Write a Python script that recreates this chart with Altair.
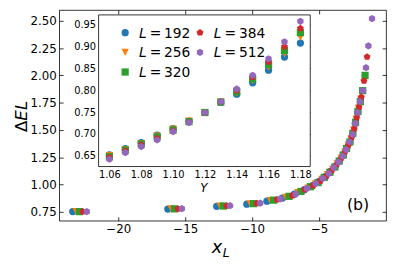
import altair as alt
import pandas as pd

# ---------------- data ----------------
L_values = ["192", "256", "320", "384", "512"]
colors = ["#1f77b4", "#ff7f0e", "#2ca02c", "#d62728", "#9467bd"]
pentagon = "M0,-1L0.951,-0.309L0.588,0.809L-0.588,0.809L-0.951,-0.309Z"
hexagon = "M0,-1L0.866,-0.5L0.866,0.5L0,1L-0.866,0.5L-0.866,-0.5Z"
tri_down = "M-1,-1L1,-1L0,1Z"
shapes = ["circle", tri_down, "square", pentagon, hexagon]

main_x_192 = [-23.4, -16.3, -12.65, -10.4, -8.9, -7.75, -6.85, -6.1, -5.5, -5.0, -4.55, -4.15, -3.8, -3.5, -3.2, -2.95, -2.7, -2.5, -2.3, -2.12]
main_y_192 = [0.752, 0.775, 0.800, 0.820, 0.847, 0.876, 0.912, 0.953, 0.990, 1.030, 1.072, 1.120, 1.165, 1.215, 1.27, 1.33, 1.39, 1.46, 1.56, 1.66]
main_x_256 = [-23.15, -16.05, -12.4, -10.15, -8.65, -7.5, -6.6, -5.85, -5.28, -4.8, -4.38, -4.0, -3.66, -3.36, -3.08, -2.83, -2.6, -2.4, -2.22, -2.05, -1.88]
main_y_256 = [0.752, 0.776, 0.802, 0.823, 0.852, 0.883, 0.925, 0.968, 1.005, 1.048, 1.092, 1.140, 1.19, 1.24, 1.30, 1.36, 1.42, 1.50, 1.60, 1.70, 1.78]
main_x_320 = [-22.9, -15.8, -12.15, -9.9, -8.4, -7.25, -6.35, -5.65, -5.08, -4.62, -4.2, -3.83, -3.5, -3.2, -2.95, -2.7, -2.48, -2.28, -2.1, -1.92, -1.75, -1.57]
main_y_320 = [0.752, 0.777, 0.803, 0.825, 0.857, 0.892, 0.937, 0.980, 1.018, 1.065, 1.112, 1.16, 1.215, 1.27, 1.33, 1.39, 1.47, 1.57, 1.67, 1.76, 1.86, 2.00]
main_x_384 = [-22.65, -15.55, -11.9, -9.65, -8.15, -7.0, -6.1, -5.45, -4.9, -4.45, -4.05, -3.68, -3.35, -3.07, -2.82, -2.58, -2.38, -2.2, -2.02, -1.85, -1.65, -1.42]
main_y_384 = [0.752, 0.778, 0.804, 0.827, 0.862, 0.900, 0.953, 0.993, 1.035, 1.08, 1.13, 1.185, 1.24, 1.30, 1.36, 1.43, 1.51, 1.61, 1.71, 1.80, 1.95, 2.17]
main_x_512 = [-22.35, -15.25, -11.65, -9.4, -7.9, -6.75, -5.9, -5.25, -4.72, -4.28, -3.9, -3.55, -3.25, -2.98, -2.72, -2.5, -2.3, -2.12, -1.95, -1.72, -1.5, -1.32, -1.05]
main_y_512 = [0.752, 0.779, 0.806, 0.830, 0.868, 0.912, 0.965, 1.008, 1.055, 1.10, 1.155, 1.205, 1.26, 1.32, 1.39, 1.46, 1.56, 1.66, 1.76, 1.86, 2.07, 2.27, 2.52]

inset_Y = [1.06, 1.07, 1.08, 1.09, 1.10, 1.11, 1.12, 1.13, 1.14, 1.15, 1.16, 1.17, 1.18]
inset_192 = [0.652, 0.666, 0.680, 0.697, 0.712, 0.729, 0.749, 0.772, 0.791, 0.817, 0.846, 0.876, 0.908]
inset_256 = [0.650, 0.664, 0.678, 0.695, 0.711, 0.729, 0.749, 0.773, 0.794, 0.822, 0.853, 0.884, 0.921]
inset_320 = [0.648, 0.663, 0.677, 0.693, 0.709, 0.728, 0.749, 0.773, 0.797, 0.826, 0.859, 0.891, 0.932]
inset_384 = [0.646, 0.661, 0.675, 0.690, 0.707, 0.727, 0.749, 0.774, 0.800, 0.830, 0.865, 0.900, 0.942]
inset_512 = [0.642, 0.657, 0.671, 0.686, 0.705, 0.726, 0.749, 0.774, 0.803, 0.834, 0.872, 0.911, 0.958]

main_xticks = [-20, -15, -10, -5]
main_yticks = [0.75, 1.00, 1.25, 1.50, 1.75, 2.00, 2.25, 2.50]
inset_xticks = [1.06, 1.08, 1.10, 1.12, 1.14, 1.16, 1.18]
inset_yticks = [0.65, 0.70, 0.75, 0.80, 0.85, 0.90, 0.95]

leg_col = [0, 0, 0, 1, 1]
leg_row = [0, 1, 2, 0, 1]

# ---------------- tables ----------------
main_sets = [(main_x_192, main_y_192), (main_x_256, main_y_256), (main_x_320, main_y_320),
             (main_x_384, main_y_384), (main_x_512, main_y_512)]
rows = []
for L, (xs, ys) in zip(L_values, main_sets):
    for xv, yv in zip(xs, ys):
        rows.append({"L": L, "xL": xv, "dEL": yv})
df_main = pd.DataFrame(rows)

inset_sets = [inset_192, inset_256, inset_320, inset_384, inset_512]
rows = []
for L, ys in zip(L_values, inset_sets):
    for xv, yv in zip(inset_Y, ys):
        rows.append({"L": L, "Y": xv, "v": yv})
df_inset = pd.DataFrame(rows)

df_leg = pd.DataFrame({"L": L_values, "col": leg_col, "row": leg_row})
one = pd.DataFrame({"a": [0]})

W, H = 332, 214
FONT = "DejaVu Sans"
MS = 54

color_enc = alt.Color("L:N", scale=alt.Scale(domain=L_values, range=colors), legend=None)
shape_enc = alt.Shape("L:N", scale=alt.Scale(domain=L_values, range=shapes), legend=None)

main_xs = alt.Scale(domain=[-24.41, 0.0], nice=False, zero=False)
main_ys = alt.Scale(domain=[0.6688, 2.599], nice=False, zero=False)
ins_xs = alt.Scale(domain=[1.0532, 1.1862], range=[40, 255], nice=False, zero=False)
ins_ys = alt.Scale(domain=[0.6252, 0.9726], range=[159, 5], nice=False, zero=False)


def ax(orient, values, fmt, offset, labels=True, size=12, pad=3):
    return alt.Axis(orient=orient, values=values, format=fmt, offset=offset,
                    tickSize=4, tickWidth=0.8, tickColor="black", domain=False,
                    grid=False, labels=labels, labelFontSize=size, labelFont=FONT,
                    labelColor="black", labelPadding=pad, labelFlush=False,
                    labelOverlap=False)


main_pts = alt.Chart(df_main).mark_point(filled=True, size=MS, opacity=1).encode(
    x=alt.X("xL:Q", scale=main_xs, axis=ax("bottom", main_xticks, "d", -4), title=None),
    y=alt.Y("dEL:Q", scale=main_ys, axis=ax("left", main_yticks, ".2f", -4), title=None),
    color=color_enc, shape=shape_enc,
)
main_mirror = alt.Chart(df_main).mark_point(opacity=0).encode(
    x=alt.X("xL:Q", scale=main_xs, axis=ax("top", main_xticks, "d", -4, labels=False), title=None),
    y=alt.Y("dEL:Q", scale=main_ys, axis=ax("right", main_yticks, ".2f", -4, labels=False), title=None),
)

inset_frame = alt.Chart(one).mark_rect(fill="white", stroke="black", strokeWidth=0.8).encode(
    x=alt.value(40), x2=alt.value(255), y=alt.value(5), y2=alt.value(159)
)

inset_pts = alt.Chart(df_inset).mark_point(filled=True, size=MS, opacity=1).encode(
    x=alt.X("Y:Q", scale=ins_xs, axis=ax("bottom", inset_xticks, ".2f", -59, size=10), title=None),
    y=alt.Y("v:Q", scale=ins_ys, axis=ax("left", inset_yticks, ".2f", -44, size=10), title=None),
    color=color_enc, shape=shape_enc,
)
inset_mirror = alt.Chart(df_inset).mark_point(opacity=0).encode(
    x=alt.X("Y:Q", scale=ins_xs, axis=ax("top", inset_xticks, ".2f", -9, labels=False), title=None),
    y=alt.Y("v:Q", scale=ins_ys, axis=ax("right", inset_yticks, ".2f", -81, labels=False), title=None),
)

leg_x = alt.X("col:Q", scale=alt.Scale(domain=[0, 1], range=[67, 143]), axis=None)
leg_y = alt.Y("row:Q", scale=alt.Scale(domain=[0, 2], range=[23, 63]), axis=None)
leg_sym = alt.Chart(df_leg).mark_point(filled=True, size=MS, opacity=1).encode(
    x=leg_x, y=leg_y, color=color_enc, shape=shape_enc)
leg_L = alt.Chart(df_leg).mark_text(text="L", dx=14, dy=1, align="left", baseline="middle",
                                    fontSize=14, font=FONT, fontStyle="italic", color="black").encode(x=leg_x, y=leg_y)
leg_eq = alt.Chart(df_leg).mark_text(text="=", dx=25, dy=1, align="left", baseline="middle",
                                     fontSize=14, font=FONT, color="black").encode(x=leg_x, y=leg_y)
leg_num = alt.Chart(df_leg).mark_text(dx=39.5, dy=1, align="left", baseline="middle",
                                      fontSize=14, font=FONT, color="black").encode(
    x=leg_x, y=leg_y, text="L:N")

def label(txt, x, y, size, style="normal", angle=0, align="left", baseline="alphabetic"):
    return alt.Chart(one).mark_text(text=txt, fontSize=size, font=FONT, fontStyle=style,
                                    angle=angle, align=align, baseline=baseline,
                                    color="black").encode(x=alt.value(x), y=alt.value(y))

ylab_d = label("Δ", -33, 124, 17, angle=270)
ylab_el = label("EL", -33, 112.4, 17, style="italic", angle=270)
xlab_x = label("x", 155, 247, 18, style="italic")
xlab_L = label("L", 166, 251, 12.5, style="italic")
ins_lab = label("Y", 147, 185, 12, style="italic", align="center")
panel = label("(b)", 303.5, 203, 16, align="center")

chart = alt.layer(
    main_pts, main_mirror, inset_frame, inset_pts, inset_mirror,
    leg_sym, leg_L, leg_eq, leg_num,
    ylab_d, ylab_el, xlab_x, xlab_L, ins_lab, panel,
).resolve_scale(
    x="independent", y="independent", color="shared", shape="shared"
).properties(
    width=W, height=H,
    autosize=alt.AutoSizeParams(type="none"),
    padding={"left": 52, "top": 0, "right": 5, "bottom": 44},
).configure_view(stroke="black", strokeWidth=0.8)

chart.save("out.html", embed_options={"renderer": "svg", "actions": False})
